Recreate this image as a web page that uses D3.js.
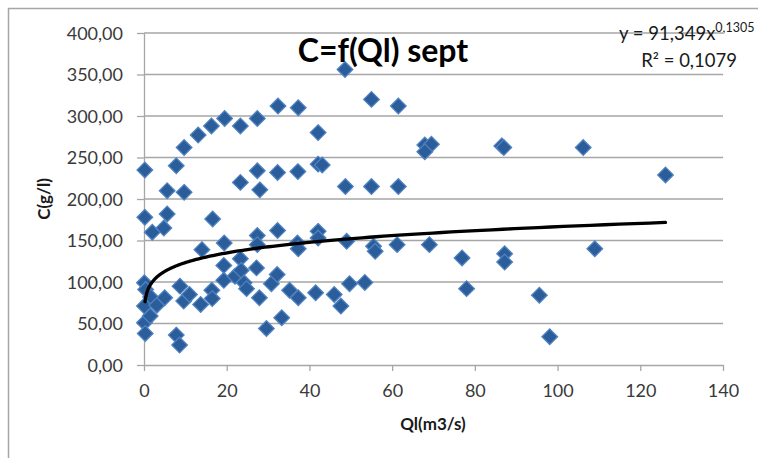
<!DOCTYPE html>
<html>
<head>
<meta charset="utf-8">
<script src="https://cdn.jsdelivr.net/npm/d3@7"></script>
<style>
  body { margin: 0; background: #fff; }
  svg text { font-family: Lato, "Open Sans", sans-serif; }
</style>
</head>
<body>
<div id="chart"></div>
<script>
// Scatter of C (g/l) against Ql (m3/s), september, with a power trend line

const title = "C=f(Ql) sept";
const xLabel = "Ql(m3/s)";
const yLabel = "C(g/l)";
const xTicks = [0, 20, 40, 60, 80, 100, 120, 140];
const yTicks = [0, 50, 100, 150, 200, 250, 300, 350, 400];

// Ql values (m3/s)
const qlValues = [
    0.2, 0.2, 2.0, 0.1, 0.4, 1.6, 0.1, 3.1, 5.0, 0.1, 1.5, 0.3,
    5.6, 5.6, 4.8, 7.8, 9.7, 9.7, 13.1, 16.3, 19.5, 23.3, 27.4, 32.4, 37.3, 42.1, 42.1, 43.1,
    23.3, 27.4, 28.0, 32.3, 37.2,
    16.6, 14.0, 19.4, 27.4, 27.4, 32.3, 37.1, 37.3, 42.1, 42.1,
    8.7, 9.6, 11.0, 13.7, 16.4, 16.5, 7.8, 8.6,
    19.3, 19.3, 22.0, 23.3, 23.5, 24.2, 24.8, 27.2, 27.9, 29.6, 30.8, 32.2, 33.3, 35.2, 37.3, 41.5, 46.0, 47.6, 49.7, 53.4,
    48.6, 55.0, 61.5, 67.9, 69.5, 67.9, 86.5, 87.0, 106.2, 126.1,
    48.7, 55.0, 61.5,
    49.0, 55.5, 55.9, 61.2, 69.0, 76.9, 78.0, 87.2, 87.2, 95.6, 98.1, 109.0
];
// C values (g/l), same order
const cValues = [
    235, 178, 160, 99, 91, 82, 71, 72, 81, 51, 59, 38,
    210, 182, 165, 240, 208, 262, 277, 288, 297, 288, 297, 312, 310, 280, 242, 241,
    220, 234, 211, 232, 233,
    176, 139, 147, 156, 145, 162, 147, 140, 161, 153,
    95, 77, 85, 73, 90, 80, 36, 24,
    120, 102, 107, 128, 114, 99, 92, 117, 81, 44, 98, 109, 57, 90, 81, 87, 85, 71, 98, 99.5,
    356, 320, 312, 265, 266, 257, 264, 262, 262, 229,
    215, 215, 215,
    149, 143, 137, 145, 145, 129, 92, 134, 124, 84, 34, 140
];

// Trend line y = a * x^b as printed on the chart
const trendCoef = [91.349, 0.1305];
const trendRange = [0.25, 126.1];
const trendText = ["y = 91,349x", "0,1305", "R² = 0,1079"];

const width = 758, height = 458;
const margin = { left: 144, right: 35, top: 33, bottom: 93 };
const plotW = width - margin.left - margin.right;
const plotH = height - margin.top - margin.bottom;

const svg = d3.select("#chart").append("svg")
    .attr("width", width)
    .attr("height", height);

// Outer chart frame (only left and top edges fall inside the picture)
svg.append("rect")
   .attr("x", 8.5).attr("y", 8.5)
   .attr("width", width + 20).attr("height", height + 20)
   .attr("fill", "none")
   .attr("stroke", "#a6a6a6")
   .attr("stroke-width", 1.5);

const g = svg.append("g")
    .attr("transform", "translate(" + margin.left + "," + margin.top + ")");

const xScale = d3.scaleLinear().domain([0, 140]).range([0, plotW]);
const yScale = d3.scaleLinear().domain([0, 400]).range([plotH, 0]);

const fmt = d => d3.format(".2f")(d).replace(".", ",");

// Horizontal gridlines
g.append("g")
 .selectAll("line")
 .data(yTicks.filter(d => d > 0))
 .enter()
 .append("line")
 .attr("x1", 0).attr("x2", plotW)
 .attr("y1", d => yScale(d)).attr("y2", d => yScale(d))
 .attr("stroke", "#a6a6a6")
 .attr("stroke-width", 1.3);

// X axis
const xAxis = g.append("g")
    .attr("transform", "translate(0," + plotH + ")")
    .call(d3.axisBottom(xScale).tickValues(xTicks).tickSize(6).tickPadding(13).tickSizeOuter(0));

// Y axis
const yAxis = g.append("g")
    .call(d3.axisLeft(yScale).tickValues(yTicks).tickSize(7).tickPadding(14).tickFormat(fmt).tickSizeOuter(0));

[xAxis, yAxis].forEach(function (ax) {
    ax.select(".domain").attr("stroke", "#a6a6a6").attr("stroke-width", 1.3);
    ax.selectAll(".tick line").attr("stroke", "#a6a6a6").attr("stroke-width", 1.3);
    ax.selectAll(".tick text")
      .attr("fill", "#3a3a3a")
      .style("font-size", "18px")
      .style("font-family", "Lato, sans-serif");
});
yAxis.selectAll(".tick text").attr("dy", "0.35em");

// Data points as diamonds
const points = qlValues.map((x, i) => ({ x: x, y: cValues[i] }));
g.append("g")
 .selectAll("path")
 .data(points)
 .enter()
 .append("path")
 .attr("transform", d => "translate(" + xScale(d.x) + "," + yScale(d.y) + ")")
 .attr("d", "M0,-7.8L7.8,0L0,7.8L-7.8,0Z")
 .attr("fill", "#2c5d9b")
 .attr("stroke", "#4f82c0")
 .attr("stroke-width", 1.3);

// Power trend line
const trendX = d3.range(0, 201).map(i => trendRange[0] * Math.pow(trendRange[1] / trendRange[0], i / 200));
const line = d3.line()
    .x(d => xScale(d))
    .y(d => yScale(trendCoef[0] * Math.pow(d, trendCoef[1])));
g.append("path")
 .datum(trendX)
 .attr("d", line)
 .attr("fill", "none")
 .attr("stroke", "#000")
 .attr("stroke-width", 3.3)
 .attr("stroke-linecap", "round");

// Title
svg.append("text")
   .attr("x", 383).attr("y", 62)
   .attr("text-anchor", "middle")
   .style("font-size", "32px")
   .style("font-weight", "bold")
   .attr("fill", "#000")
   .text(title);

// Trend equation
const eq = svg.append("text")
   .attr("x", 619).attr("y", 40)
   .style("font-size", "18.5px")
   .attr("fill", "#1a1a1a");
eq.append("tspan").text(trendText[0]);
eq.append("tspan").attr("dy", -8).style("font-size", "12.5px").text(trendText[1]);
svg.append("text")
   .attr("x", 737).attr("y", 67)
   .attr("text-anchor", "end")
   .style("font-size", "18.5px")
   .attr("fill", "#1a1a1a")
   .text(trendText[2]);

// Axis titles
svg.append("text")
   .attr("x", 433).attr("y", 430)
   .attr("text-anchor", "middle")
   .style("font-size", "17px")
   .style("font-weight", "bold")
   .attr("fill", "#1a1a1a")
   .text(xLabel);

svg.append("text")
   .attr("transform", "translate(50,199) rotate(-90)")
   .attr("text-anchor", "middle")
   .style("font-size", "17px")
   .style("font-weight", "bold")
   .attr("fill", "#1a1a1a")
   .text(yLabel);
</script>
</body>
</html>
